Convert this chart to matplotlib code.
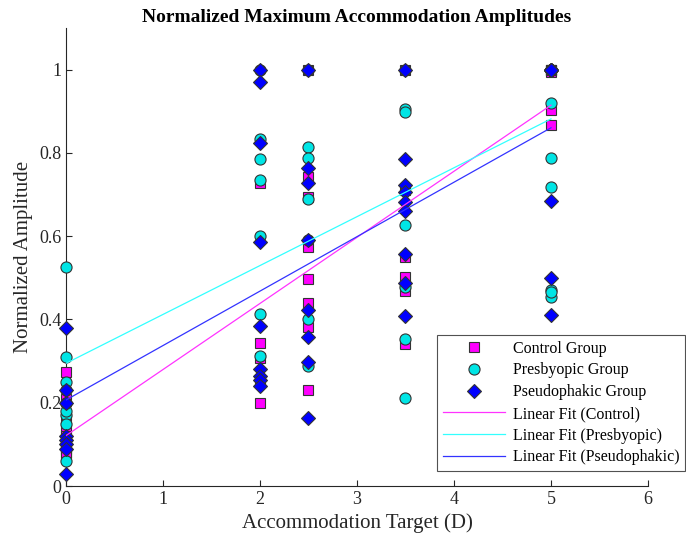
import numpy as np
import matplotlib
matplotlib.use('Agg')
import matplotlib.pyplot as plt

plt.rcParams['font.family'] = ['Liberation Serif', 'DejaVu Serif']

# Accommodation targets (D) and normalized amplitudes per group
control_x = [0, 0, 0, 0, 0, 0, 0, 0, 0, 0,
             2, 2, 2, 2, 2,
             2.5, 2.5, 2.5, 2.5, 2.5, 2.5, 2.5, 2.5,
             3.5, 3.5, 3.5, 3.5, 3.5, 3.5,
             5, 5, 5, 5, 5, 5]
control_y = [0.275, 0.21, 0.16, 0.14, 0.12, 0.09, 0.08, 0.10, 0.11, 0.08,
             0.728, 0.344, 0.307, 0.25, 0.20,
             1.0, 0.743, 0.695, 0.575, 0.497, 0.44, 0.383, 0.23,
             1.0, 0.71, 0.502, 0.469, 0.341, 0.55,
             0.995, 0.904, 0.866, 1.0, 1.0, 1.0]

presby_x = [0, 0, 0, 0, 0, 0, 0, 0, 0, 0,
            2, 2, 2, 2, 2, 2, 2,
            2.5, 2.5, 2.5, 2.5, 2.5, 2.5, 2.5,
            3.5, 3.5, 3.5, 3.5, 3.5, 3.5, 3.5,
            5, 5, 5, 5, 5, 5, 5, 5, 5, 5, 5, 5, 5, 5, 5, 5]
presby_y = [0.525, 0.31, 0.25, 0.23, 0.20, 0.17, 0.06, 0.15, 0.18, 0.20,
            1.0, 0.834, 0.786, 0.735, 0.60, 0.413, 0.313,
            1.0, 0.815, 0.788, 0.69, 0.59, 0.40, 0.289,
            1.0, 0.905, 0.898, 0.627, 0.478, 0.353, 0.211,
            1.0, 0.92, 0.788, 0.719, 0.471, 0.455, 0.465,
            1.0, 1.0, 1.0, 1.0, 1.0, 1.0, 1.0, 1.0, 1.0]

pseudo_x = [0, 0, 0, 0, 0, 0, 0, 0,
            2, 2, 2, 2, 2, 2, 2, 2, 2,
            2.5, 2.5, 2.5, 2.5, 2.5, 2.5, 2.5, 2.5,
            3.5, 3.5, 3.5, 3.5, 3.5, 3.5, 3.5, 3.5, 3.5,
            5, 5, 5, 5, 5, 5, 5, 5]
pseudo_y = [0.38, 0.23, 0.20, 0.12, 0.11, 0.10, 0.03, 0.09,
            1.0, 0.97, 0.824, 0.585, 0.385, 0.28, 0.265, 0.255, 0.24,
            1.0, 0.764, 0.728, 0.592, 0.423, 0.357, 0.298, 0.163,
            1.0, 0.786, 0.723, 0.705, 0.683, 0.66, 0.557, 0.488, 0.409,
            1.0, 0.685, 0.50, 0.411, 1.0, 1.0, 1.0, 1.0]

fig = plt.figure(figsize=(6.86, 5.39), dpi=100)
ax = fig.add_axes([0.0962, 0.0983, 0.8484, 0.8497])

edge = '#333333'
h1, = ax.plot(control_x, control_y, 's', ms=6.5, mfc='#ff00ff', mec=edge, mew=0.8,
              label='Control Group', zorder=3, clip_on=False)
h2, = ax.plot(presby_x, presby_y, 'o', ms=8, mfc='#00e5e5', mec=edge, mew=0.8,
              label='Presbyopic Group', zorder=3, clip_on=False)
h3, = ax.plot(pseudo_x, pseudo_y, 'D', ms=6.8, mfc='#0000ff', mec=edge, mew=0.8,
              label='Pseudophakic Group', zorder=4, clip_on=False)

# Least-squares linear fits for each group
xf = np.array([0, 5])
fits = [(control_x, control_y, '#ff33ff', 'Linear Fit (Control)'),
        (presby_x, presby_y, '#33ffff', 'Linear Fit (Presbyopic)'),
        (pseudo_x, pseudo_y, '#3333ff', 'Linear Fit (Pseudophakic)')]
line_handles = []
for x, y, c, lab in fits:
    k, b = np.polyfit(x, y, 1)
    h, = ax.plot(xf, k * xf + b, '-', color=c, lw=0.9, label=lab, zorder=5)
    line_handles.append(h)

ax.set_xlim(0, 6)
ax.set_ylim(0, 1.1)
ax.set_xticks(range(7))
ax.set_yticks([0, 0.2, 0.4, 0.6, 0.8, 1.0])
ax.set_yticklabels(['0', '0.2', '0.4', '0.6', '0.8', '1'])
ax.tick_params(direction='in', labelsize=13, length=4, colors='#262626')
for s in ['top', 'right']:
    ax.spines[s].set_visible(False)
for s in ['left', 'bottom']:
    ax.spines[s].set_color('#262626')

ax.set_xlabel('Accommodation Target (D)', fontsize=15, color='#262626')
ax.set_ylabel('Normalized Amplitude', fontsize=15, color='#262626')
ax.set_title('Normalized Maximum Accommodation Amplitudes', fontsize=14,
             fontweight='bold', pad=4)

leg = ax.legend(handles=[h1, h2, h3] + line_handles, loc='lower left',
                bbox_to_anchor=(437 / 686, 1 - 471 / 539), bbox_transform=fig.transFigure,
                fontsize=11.5, frameon=True, fancybox=False, edgecolor='#262626',
                borderpad=0.35, labelspacing=0.36, handlelength=3.9,
                handletextpad=0.5, borderaxespad=0)
leg.get_frame().set_linewidth(0.8)
leg.set_zorder(10)

fig.savefig('out.png', dpi=100)
